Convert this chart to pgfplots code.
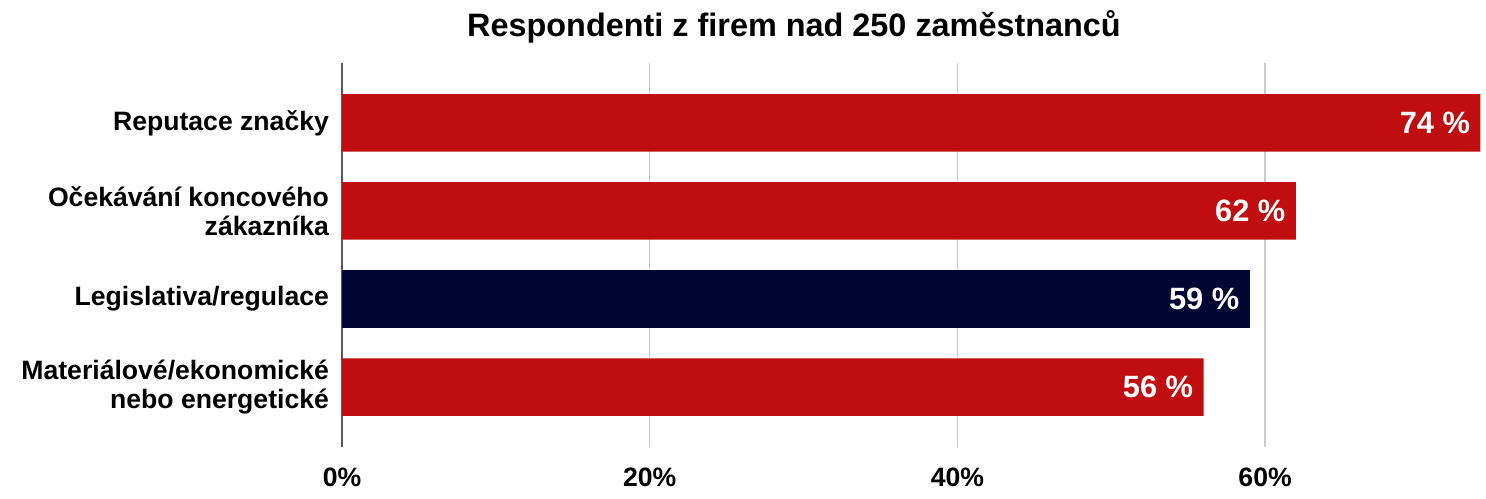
\documentclass[border=0pt]{standalone}
\usepackage{fontspec}
\setmainfont{Liberation Sans}
\usepackage{pgfplots}
\pgfplotsset{compat=1.18}
\definecolor{barred}{HTML}{C00D10}
\definecolor{barnavy}{HTML}{030632}
\begin{document}
\begin{tikzpicture}
\begin{axis}[
    name=ax,
    xbar,
    bar shift=0pt,
    bar width=28.75pt,
    scale only axis,
    width=570pt,
    height=192pt,
    xmin=0, xmax=74.1,
    ymin=-0.68, ymax=3.68,
    xtick={0,20,40,60},
    xticklabel={\pgfmathprintnumber{\tick}\%},
    /pgf/number format/assume math mode=true,
    ytick={0,1,2,3},
    yticklabels={{Materiálové/ekonomické\\nebo energetické},{Legislativa/regulace},{Očekávání koncového\\zákazníka},{Reputace značky}},
    yticklabel style={align=right, font=\bfseries\fontsize{13.3}{14.5}\selectfont, xshift=-3pt},
    xticklabel style={font=\bfseries\fontsize{13.3}{16}\selectfont, yshift=-7pt},
    major tick length=0pt,
    axis x line*=bottom,
    axis y line*=left,
    x axis line style={draw=none},
    y axis line style={draw=black!65, line width=1pt},
    xmajorgrids,
    grid style={draw=black!20, line width=0.8pt},
    nodes near coords={\pgfmathprintnumber{\pgfplotspointmeta}~\%},
    point meta=x,
    every node near coord/.append style={anchor=east, xshift=-1.7pt, text=white, font=\bfseries\fontsize{15.4}{18}\selectfont},
]
\addplot[fill=barred, draw=none] coordinates {(74,3) (62,2) (56,0)};
\addplot[fill=barnavy, draw=none] coordinates {(59,1)};
\end{axis}
\node[anchor=base, font=\bfseries\fontsize{16.2}{19}\selectfont] at ([xshift=226pt,yshift=13pt]ax.north west) {Respondenti z firem nad 250 zaměstnanců};
\pgfresetboundingbox
\path ([xshift=-171pt,yshift=-25.5pt]ax.south west) rectangle ([xshift=2pt,yshift=31.5pt]ax.north east);
\end{tikzpicture}
\end{document}
